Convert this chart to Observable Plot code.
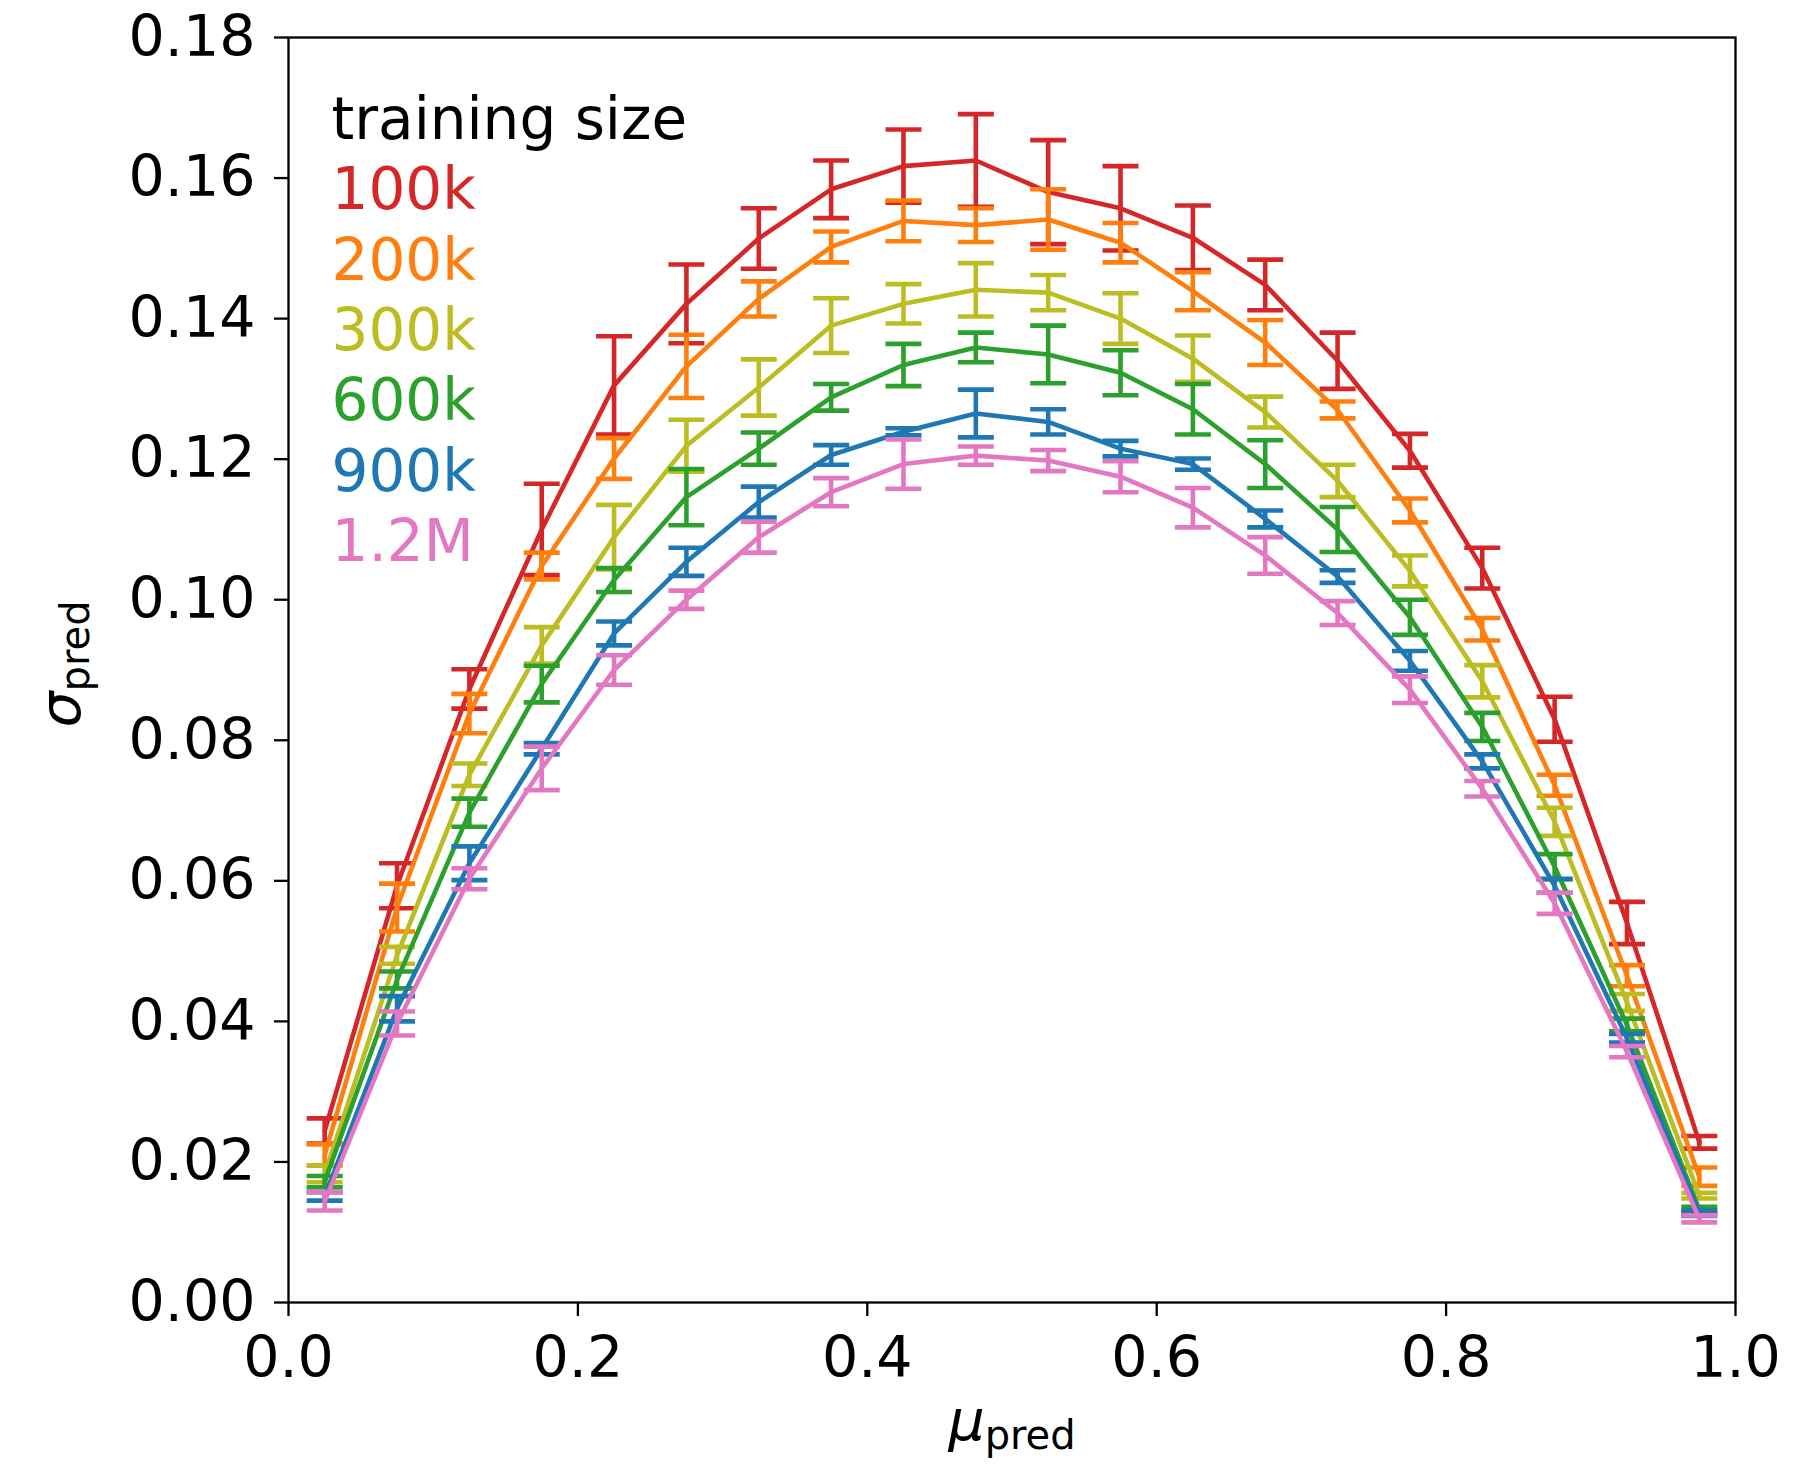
<!DOCTYPE html>
<html>
<head>
<meta charset="utf-8">
<script src="https://cdn.jsdelivr.net/npm/d3@7"></script>
<script src="https://cdn.jsdelivr.net/npm/@observablehq/plot@0.6"></script>
<style>
  html, body { margin: 0; padding: 0; background: #fff; }
  #chart { width: 1804px; height: 1470px; }
</style>
</head>
<body>
<div id="chart"></div>
<script>
// ---- data ----
const mu = [0.025, 0.075, 0.125, 0.175, 0.225, 0.275, 0.325, 0.375, 0.425, 0.475,
            0.525, 0.575, 0.625, 0.675, 0.725, 0.775, 0.825, 0.875, 0.925, 0.975];

const sizes = ["100k", "200k", "300k", "600k", "900k", "1.2M"];
const colors = ["#d62728", "#ff7f0e", "#bcbd22", "#2ca02c", "#1f77b4", "#e377c2"];

const sigma100k = [0.0244, 0.0593, 0.0873, 0.1100, 0.1305, 0.1421, 0.1514, 0.1584, 0.1617, 0.1625,
                   0.1580, 0.1557, 0.1515, 0.1448, 0.1340, 0.1212, 0.1045, 0.0830, 0.0540, 0.0228];
const err100k   = [0.0018, 0.0032, 0.0028, 0.0065, 0.0070, 0.0056, 0.0043, 0.0041, 0.0052, 0.0066,
                   0.0074, 0.0060, 0.0046, 0.0036, 0.0040, 0.0024, 0.0029, 0.0032, 0.0030, 0.0009];

const sigma200k = [0.0210, 0.0562, 0.0838, 0.1048, 0.1201, 0.1332, 0.1428, 0.1502, 0.1539, 0.1533,
                   0.1541, 0.1508, 0.1439, 0.1366, 0.1270, 0.1127, 0.0958, 0.0736, 0.0465, 0.0179];
const err200k   = [0.0015, 0.0034, 0.0028, 0.0019, 0.0029, 0.0045, 0.0025, 0.0022, 0.0029, 0.0024,
                   0.0043, 0.0028, 0.0027, 0.0032, 0.0012, 0.0017, 0.0016, 0.0015, 0.0015, 0.0013];

const sigma300k = [0.0183, 0.0494, 0.0751, 0.0935, 0.1089, 0.1219, 0.1302, 0.1390, 0.1421, 0.1441,
                   0.1437, 0.1400, 0.1343, 0.1267, 0.1169, 0.1041, 0.0884, 0.0684, 0.0427, 0.0152];
const err300k   = [0.0012, 0.0012, 0.0016, 0.0026, 0.0046, 0.0037, 0.0040, 0.0039, 0.0028, 0.0038,
                   0.0025, 0.0036, 0.0033, 0.0022, 0.0023, 0.0022, 0.0023, 0.0020, 0.0012, 0.0004];

const sigma600k = [0.0172, 0.0459, 0.0697, 0.0880, 0.1028, 0.1146, 0.1215, 0.1288, 0.1334, 0.1359,
                   0.1349, 0.1323, 0.1271, 0.1193, 0.1100, 0.0975, 0.0819, 0.0620, 0.0395, 0.0132];
const err600k   = [0.0008, 0.0012, 0.0020, 0.0026, 0.0017, 0.0040, 0.0023, 0.0019, 0.0030, 0.0021,
                   0.0041, 0.0032, 0.0036, 0.0034, 0.0032, 0.0025, 0.0020, 0.0018, 0.0009, 0.0004];

const sigma900k = [0.0151, 0.0418, 0.0625, 0.0788, 0.0952, 0.1054, 0.1139, 0.1206, 0.1239, 0.1265,
                   0.1253, 0.1215, 0.1193, 0.1115, 0.1033, 0.0913, 0.0770, 0.0593, 0.0376, 0.0127];
const err900k   = [0.0006, 0.0018, 0.0024, 0.0008, 0.0017, 0.0020, 0.0022, 0.0014, 0.0005, 0.0034,
                   0.0018, 0.0011, 0.0008, 0.0012, 0.0009, 0.0014, 0.0010, 0.0010, 0.0006, 0.0004];

const sigma1_2M = [0.0144, 0.0397, 0.0603, 0.0760, 0.0900, 0.1000, 0.1089, 0.1153, 0.1193, 0.1205,
                   0.1198, 0.1175, 0.1131, 0.1063, 0.0981, 0.0872, 0.0731, 0.0568, 0.0357, 0.0119];
const err1_2M   = [0.0013, 0.0017, 0.0015, 0.0031, 0.0021, 0.0013, 0.0022, 0.0020, 0.0035, 0.0013,
                   0.0015, 0.0022, 0.0028, 0.0026, 0.0017, 0.0019, 0.0011, 0.0015, 0.0008, 0.0005];

const xTicks = [0, 0.2, 0.4, 0.6, 0.8, 1.0];
const yTicks = [0, 0.02, 0.04, 0.06, 0.08, 0.10, 0.12, 0.14, 0.16, 0.18];
const legendTitle = "training size";

// ---- build table ----
const sigmaBySize = [sigma100k, sigma200k, sigma300k, sigma600k, sigma900k, sigma1_2M];
const errBySize = [err100k, err200k, err300k, err600k, err900k, err1_2M];
const table = sizes.flatMap((s, k) =>
  mu.map((m, i) => ({size: s, mu: m, sigma: sigmaBySize[k][i], err: errBySize[k][i]})));

// horizontal-bar symbol for error caps
const capSymbol = {
  draw(context, size) {
    const w = Math.sqrt(size / Math.PI);
    context.moveTo(-w, 0);
    context.lineTo(w, 0);
  }
};

const LW = 4.6;
const seriesMarks = sizes.flatMap((s, k) => {
  const rows = table.filter(d => d.size === s);
  const c = colors[k];
  return [
    Plot.line(rows, {x: "mu", y: "sigma", stroke: c, strokeWidth: LW}),
    Plot.ruleX(rows, {x: "mu", y1: d => d.sigma - d.err, y2: d => d.sigma + d.err, stroke: c, strokeWidth: LW}),
    Plot.dot(rows, {x: "mu", y: d => d.sigma - d.err, symbol: capSymbol, r: 18, fill: "none", stroke: c, strokeWidth: LW}),
    Plot.dot(rows, {x: "mu", y: d => d.sigma + d.err, symbol: capSymbol, r: 18, fill: "none", stroke: c, strokeWidth: LW})
  ];
});

const legendLabels = [legendTitle, ...sizes];
const legendColors = ["#000000", ...colors];
const legendMarks = legendLabels.map((t, i) =>
  Plot.text([t], {
    frameAnchor: "top-left", text: d => d, textAnchor: "start", lineAnchor: "bottom",
    dx: 43, dy: 101.6 + 70.3 * i, fill: legendColors[i], fontSize: 58
  }));

const chart = Plot.plot({
  width: 1804,
  height: 1470,
  marginLeft: 288,
  marginRight: 69,
  marginTop: 37,
  marginBottom: 168,
  style: {fontFamily: "DejaVu Sans", fontSize: "57px", color: "black", background: "white"},
  x: {domain: [0, 1]},
  y: {domain: [0, 0.18]},
  marks: [
    ...seriesMarks,
    Plot.axisX({ticks: xTicks, tickFormat: d3.format(".1f"), tickSize: 14, tickPadding: 20, strokeWidth: 2.3, label: null, fontSize: 57}),
    Plot.axisY({ticks: yTicks, tickFormat: d3.format(".2f"), tickSize: 14, tickPadding: 19, strokeWidth: 2.3, label: null, fontSize: 57}),
    Plot.frame({stroke: "black", strokeWidth: 2.3}),
    ...legendMarks
  ]
});

document.getElementById("chart").appendChild(chart);

// axis titles with subscripts
const svg = d3.select(chart);
const xl = svg.append("text")
  .attr("x", 1012).attr("y", 1440)
  .attr("text-anchor", "middle")
  .attr("font-family", "DejaVu Sans").attr("font-size", 57).attr("fill", "black");
xl.append("tspan").attr("font-style", "italic").text("μ");
xl.append("tspan").attr("font-size", 40).attr("dy", 9).text("pred");

const yl = svg.append("text")
  .attr("transform", "translate(80,664) rotate(-90)")
  .attr("text-anchor", "middle")
  .attr("font-family", "DejaVu Sans").attr("font-size", 57).attr("fill", "black");
yl.append("tspan").attr("font-style", "italic").text("σ");
yl.append("tspan").attr("font-size", 40).attr("dy", 9).text("pred");
</script>
</body>
</html>
